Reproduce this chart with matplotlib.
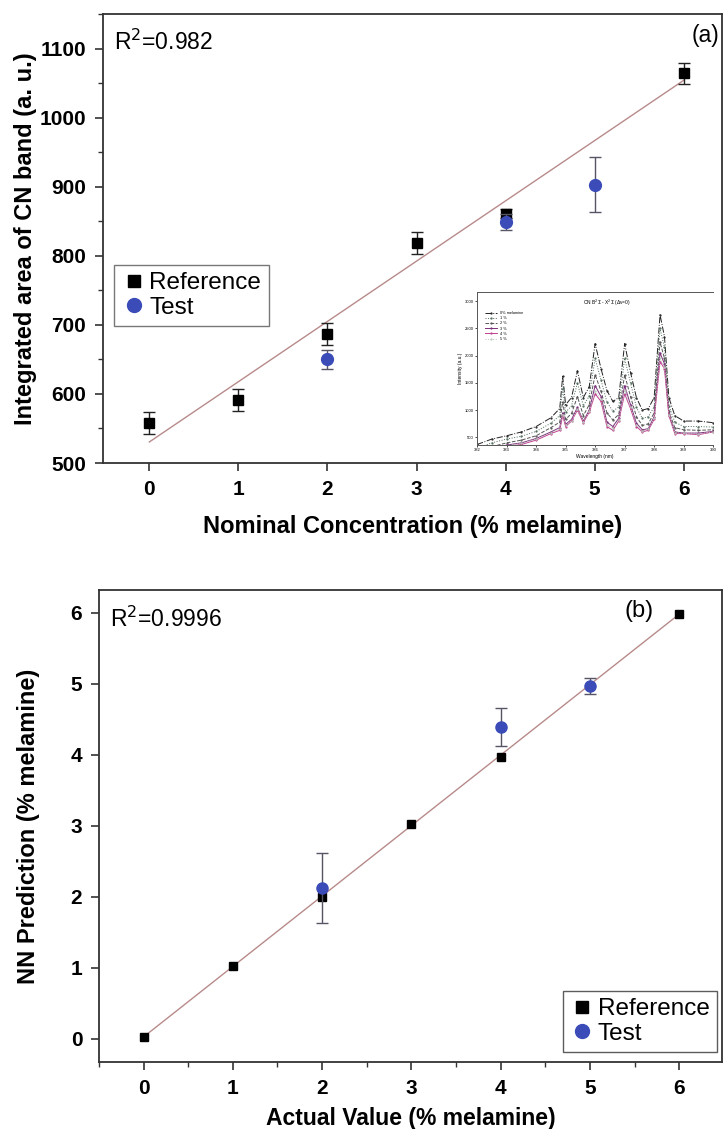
import numpy as np
import matplotlib.pyplot as plt
from matplotlib.ticker import MultipleLocator
from matplotlib.lines import Line2D

plt.rcParams['font.family'] = ['Liberation Sans', 'DejaVu Sans']

# Panel (a): integrated CN band area vs nominal concentration
conc_ref = [0, 1, 2, 3, 4, 6]
area_ref = [558, 591, 687, 818, 861, 1064]
area_ref_err = [16, 16, 16, 16, 6, 15]
conc_test = [2, 4, 5]
area_test = [650, 849, 903]
area_test_err = [14, 11, 40]

# Panel (b): NN prediction vs actual value
actual_ref = [0, 1, 2, 3, 4, 6]
pred_ref = [0.02, 1.03, 2.0, 3.02, 3.97, 5.99]
actual_test = [2, 4, 5]
pred_test = [2.12, 4.39, 4.97]
pred_test_err = [0.49, 0.27, 0.11]

# Inset: CN B-X (dv=0) spectra
wl = [382.0, 382.5, 383.0, 383.5, 384.0, 384.5, 384.8, 384.9, 385.0, 385.2,
      385.4, 385.6, 385.8, 386.0, 386.2, 386.4, 386.6, 386.8, 387.0, 387.2,
      387.4, 387.6, 387.8, 388.0, 388.2, 388.35, 388.5, 388.7, 389.0, 389.5, 390.0]
spec_0 = [370, 470, 530, 600, 700, 860, 1030, 1620, 1100, 1230, 1720, 1230, 1430, 2220, 1760, 1360,
          1160, 1230, 2220, 1690, 1230, 1000, 1030, 1230, 2750, 2350, 1230, 900, 800, 800, 770]
spec_1 = [300, 400, 470, 520, 610, 760, 900, 1400, 960, 1080, 1500, 1080, 1260, 1950, 1550, 1150,
          980, 1060, 1950, 1500, 1050, 850, 880, 1060, 2500, 2150, 1080, 780, 700, 700, 690]
spec_2 = [250, 330, 400, 450, 530, 680, 780, 1150, 830, 940, 1250, 900, 1100, 1650, 1350, 950,
          820, 920, 1650, 1250, 880, 720, 750, 950, 2250, 1950, 980, 680, 640, 630, 640]
spec_3 = [200, 280, 360, 400, 480, 600, 680, 950, 740, 830, 1050, 800, 1000, 1450, 1250, 780,
          700, 850, 1450, 1100, 760, 640, 660, 880, 2050, 1850, 930, 600, 580, 580, 610]
spec_4 = [170, 235, 335, 370, 450, 570, 630, 900, 700, 800, 1000, 770, 960, 1300, 1160, 700,
          630, 800, 1300, 1030, 700, 600, 630, 830, 1890, 1760, 900, 570, 570, 550, 600]
spec_5 = [190, 260, 350, 390, 470, 590, 660, 920, 720, 810, 1020, 790, 980, 1350, 1200, 730,
          660, 820, 1350, 1060, 730, 620, 650, 850, 1950, 1800, 910, 590, 575, 560, 605]
spec_labels = ['0% melamine', '1 %', '2 %', '3 %', '4 %', '5 %']

blue = '#3b4cb8'
fit_col = '#b88a8a'
spine_col = '#333333'

fig = plt.figure(figsize=(7.24, 11.29), dpi=100)
ax1 = fig.add_axes([0.1423, 0.5899, 0.855, 0.3977])
ax2 = fig.add_axes([0.1367, 0.0593, 0.8605, 0.418])

def style_axes(ax):
    for s in ax.spines.values():
        s.set_linewidth(1.3)
        s.set_color(spine_col)
    ax.tick_params(which='major', direction='out', length=6, width=1.2,
                   labelsize=15, pad=6, colors=spine_col)
    ax.tick_params(which='minor', direction='out', length=3.5, width=1.0, colors=spine_col)
    for lab in ax.get_xticklabels() + ax.get_yticklabels():
        lab.set_fontweight('bold')
        lab.set_color('black')

def legend_handles(ms_sq):
    return [Line2D([], [], ls='none', marker='s', color='black', ms=ms_sq),
            Line2D([], [], ls='none', marker='o', color=blue, ms=10)]

# ---- panel (a)
coef_a = np.polyfit(conc_ref, area_ref, 1)
xf = np.array([0, 6])
ax1.plot(xf, np.polyval(coef_a, xf), color=fit_col, lw=1.0, zorder=1)
ax1.errorbar(conc_ref, area_ref, yerr=area_ref_err, fmt='s', color='black', ms=7.5,
             ecolor='#222222', elinewidth=1.0, capsize=4, zorder=3)
ax1.errorbar(conc_test, area_test, yerr=area_test_err, fmt='o', color=blue, ms=8.5,
             ecolor='#555566', elinewidth=1.0, capsize=4, zorder=4)
ax1.set_xlim(-0.52, 6.43)
ax1.set_ylim(500, 1150)
ax1.set_xticks(range(7))
ax1.yaxis.set_minor_locator(MultipleLocator(50))
ax1.set_yticks(range(500, 1101, 100))
style_axes(ax1)
ax1.set_xlabel('Nominal Concentration (% melamine)', fontsize=17, fontweight='bold', labelpad=12)
ax1.set_ylabel('Integrated area of CN band (a. u.)', fontsize=17, fontweight='bold', labelpad=2)
ax1.text(0.017, 0.965, 'R$^2$=0.982', transform=ax1.transAxes, fontsize=16.5, va='top')
ax1.text(0.995, 0.978, '(a)', transform=ax1.transAxes, fontsize=16.5, va='top', ha='right')
leg = ax1.legend(legend_handles(9), ['Reference', 'Test'], loc='upper left',
                 bbox_to_anchor=(0.018, 0.441), borderaxespad=0, fontsize=17.5,
                 fancybox=False, edgecolor='#555555', handletextpad=0.15, handlelength=1.0,
                 borderpad=0.3, labelspacing=0.1)
leg.get_frame().set_linewidth(1.0)

# inset spectra
ins = fig.add_axes([0.659, 0.606, 0.326, 0.135])
spec_all = [spec_0, spec_1, spec_2, spec_3, spec_4, spec_5]
spec_cols = ['#222222', '#4f6b5a', '#555555', '#7a2f7a', '#c0408f', '#b8c8b8']
spec_ls = ['-.', ':', '--', '-', '-', ':']
for sp, c, ls, lb in zip(spec_all, spec_cols, spec_ls, spec_labels):
    ins.plot(wl, sp, color=c, ls=ls, lw=0.7, label=lb, marker='.', ms=1.2)
ins.set_xlim(382, 390)
ins.set_ylim(364, 3160)
ins.set_xticks(range(382, 391))
ins.set_yticks(range(500, 3001, 500))
ins.tick_params(labelsize=3, length=1.5, width=0.5, pad=1)
for s in ins.spines.values():
    s.set_linewidth(0.7)
    s.set_color('#555555')
ins.spines['right'].set_visible(False)
ins.set_xlabel('Wavelength (nm)', fontsize=3.5, labelpad=1)
ins.set_ylabel('Intensity (a.u.)', fontsize=3.5, labelpad=1)
ins.text(0.55, 0.93, 'CN B$^2\\Sigma$ - X$^2\\Sigma$ ($\\Delta$v=0)', transform=ins.transAxes,
         fontsize=3.5, ha='center', va='center')
ins.legend(loc='upper left', fontsize=2.8, frameon=False, handlelength=3, labelspacing=0.3,
           bbox_to_anchor=(0.02, 0.9))

# ---- panel (b)
coef_b = np.polyfit(actual_ref, pred_ref, 1)
ax2.plot(xf, np.polyval(coef_b, xf), color=fit_col, lw=1.0, zorder=1)
ax2.plot(actual_ref, pred_ref, 's', color='black', ms=5.5, zorder=3)
ax2.errorbar(actual_test, pred_test, yerr=pred_test_err, fmt='o', color=blue, ms=8,
             ecolor='#555566', elinewidth=1.0, capsize=4, zorder=4)
ax2.set_xlim(-0.5, 6.48)
ax2.set_ylim(-0.33, 6.32)
ax2.set_xticks(range(7))
ax2.xaxis.set_minor_locator(MultipleLocator(0.5))
ax2.set_yticks(range(7))
style_axes(ax2)
ax2.set_xlabel('Actual Value (% melamine)', fontsize=16.5, fontweight='bold', labelpad=7)
ax2.set_ylabel('NN Prediction (% melamine)', fontsize=17, fontweight='bold', labelpad=22)
ax2.text(0.017, 0.965, 'R$^2$=0.9996', transform=ax2.transAxes, fontsize=16.5, va='top')
ax2.text(0.89, 0.98, '(b)', transform=ax2.transAxes, fontsize=17, va='top', ha='right')
leg2 = ax2.legend(legend_handles(9), ['Reference', 'Test'], loc='lower right',
                  bbox_to_anchor=(0.992, 0.021), borderaxespad=0, fontsize=17.5,
                  fancybox=False, edgecolor='#333333', handletextpad=0.15, handlelength=1.0,
                  borderpad=0.3, labelspacing=0.1)
leg2.get_frame().set_linewidth(1.0)

fig.savefig('out.png', dpi=100)
